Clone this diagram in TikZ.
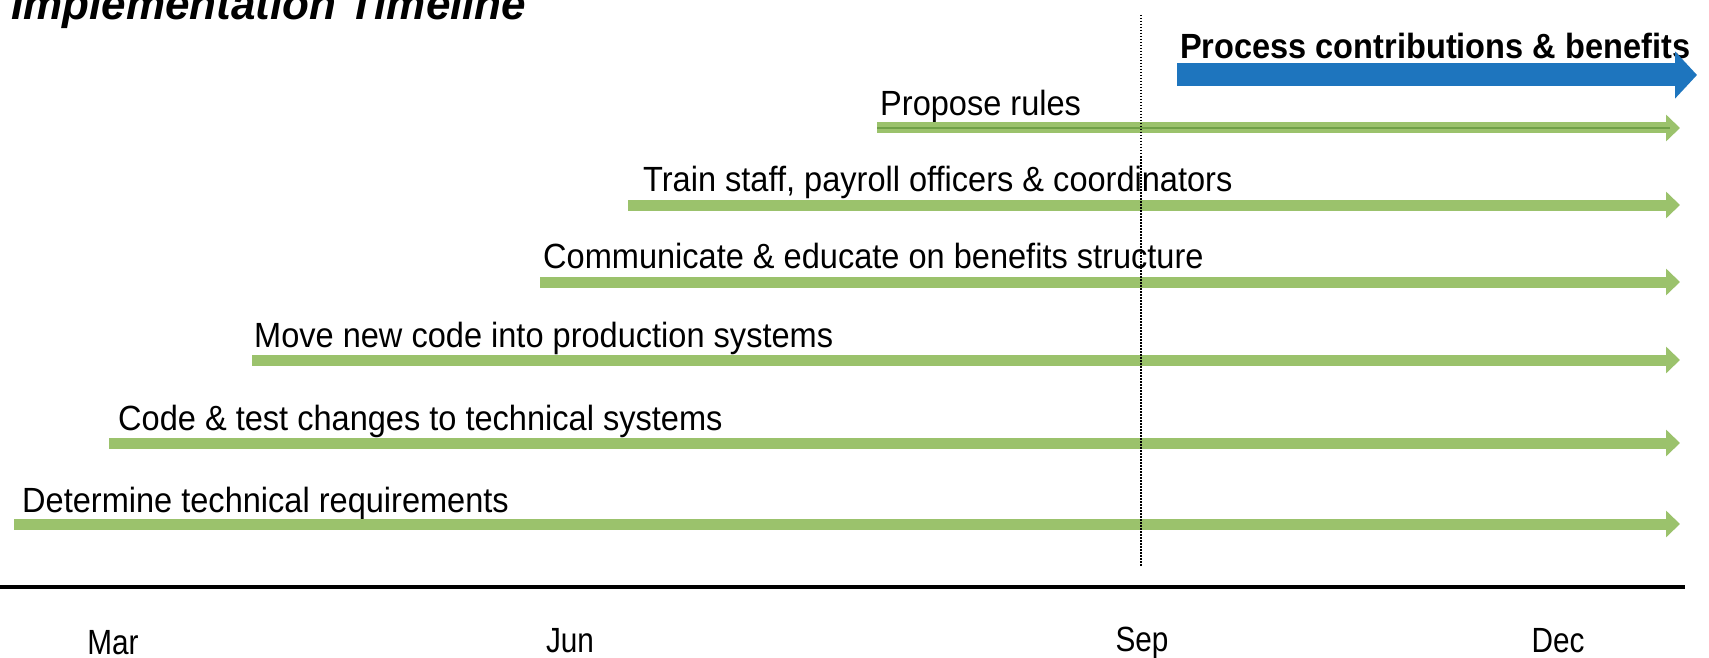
\documentclass[tikz,border=0pt]{standalone}
\usepackage{fontspec}
\setmainfont{Liberation Sans}
\newfontfamily\barfont{Liberation Sans}[FakeStretch=0.93]
\newfontfamily\monthfont{Liberation Sans}[FakeStretch=0.85]
\usetikzlibrary{arrows.meta}
\definecolor{barGreen}{RGB}{155,194,108}
\definecolor{lineGreen}{RGB}{112,160,72}
\definecolor{gainBlue}{RGB}{30,117,190}
\tikzset{task/.style={anchor=base west,inner sep=0pt,font=\barfont\fontsize{35}{40}\selectfont}}
\tikzset{month/.style={anchor=base,inner sep=0pt,font=\monthfont\fontsize{35}{40}\selectfont}}
\tikzset{bar/.style={draw=barGreen,line width=11pt,-{Triangle[length=14pt,width=26pt]}}}
\tikzset{gain/.style={draw=gainBlue,line width=23pt,-{Triangle[length=22pt,width=46pt]}}}

\begin{document}
\begin{tikzpicture}[x=1pt,y=-1pt]
% \draw[help lines,step=100] (0,0) grid (1709,658);
\useasboundingbox (0,0) rectangle (1709,658);
\node (title) [anchor=base west,inner sep=0pt,font=\fontsize{44}{48}\selectfont\bfseries\itshape] at (11,20) {Implementation Timeline};
%
\node (gain) [task,font=\barfont\fontsize{35}{40}\selectfont\bfseries] at (1180,59) {Process contributions \& benefits};
\node (pro) [task] at (880,116) {Propose rules};
\node (tra) [task] at (643,191) {Train staff, payroll officers \& coordinators};
\node (com) [task] at (543,268) {Communicate \& educate on benefits structure};
\node (mov) [task] at (254,347) {Move new code into production systems};
\node (cod) [task] at (118,430) {Code \& test changes to technical systems};
\node (det) [task] at (22,512) {Determine technical requirements};
%
\coordinate (gain-s) at (1177,75);
\coordinate (gain-e) at (1697,75);
\coordinate (pro-s) at (877,128);
\coordinate (pro-m) at (1670,128);
\coordinate (pro-e) at (1680,128);
\coordinate (tra-s) at (628,205);
\coordinate (tra-e) at (1680,205);
\coordinate (com-s) at (540,282);
\coordinate (com-e) at (1680,282);
\coordinate (mov-s) at (252,360);
\coordinate (mov-e) at (1680,360);
\coordinate (cod-s) at (109,443);
\coordinate (cod-e) at (1680,443);
\coordinate (det-s) at (14,524);
\coordinate (det-e) at (1680,524);
%
\draw[gain] (gain-s) -- (gain-e);
\draw[bar] (pro-s) -- (pro-e);
\draw[lineGreen,line width=1.5pt] (pro-s) -- (pro-m);
\draw[bar] (tra-s) -- (tra-e);
\draw[bar] (com-s) -- (com-e);
\draw[bar] (mov-s) -- (mov-e);
\draw[bar] (cod-s) -- (cod-e);
\draw[bar] (det-s) -- (det-e);
%
\coordinate (now-t) at (1141,15);
\coordinate (now-b) at (1141,567);
\draw[line width=1.5pt,dash pattern=on 1.5pt off 1.5pt] (now-t) -- (now-b);
%
\coordinate (axis-l) at (0,587);
\coordinate (axis-r) at (1685,587);
\draw[line width=3.5pt] (axis-l) -- (axis-r);
\node (mar) [month] at (113,654) {Mar};
\node (jun) [month] at (570,652) {Jun};
\node (sep) [month] at (1142,651) {Sep};
\node (dec) [month] at (1558,652) {Dec};
\end{tikzpicture}
\end{document}
